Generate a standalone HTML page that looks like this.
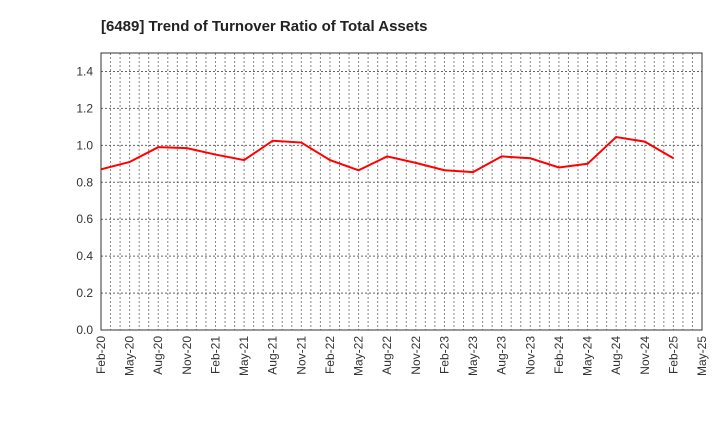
<!DOCTYPE html>
<html><head><meta charset="utf-8"><style>
body{margin:0;background:#fff;}
svg text{font-family:"Liberation Sans",sans-serif;}
</style></head><body>
<svg width="720" height="440" xmlns="http://www.w3.org/2000/svg">
<text x="101" y="31" font-size="15" font-weight="bold" fill="#222">[6489]  Trend of Turnover Ratio of Total Assets</text>
<g id="grid"></g>
<g id="yt"></g>
<g id="xt"></g>
<polyline id="line" fill="none" stroke="#f00" stroke-width="2"/>
<rect x="101" y="53" width="601" height="277" fill="none" stroke="#333" stroke-width="1"/>
</svg>
<script>
const xLabels=["Feb-20","May-20","Aug-20","Nov-20","Feb-21","May-21","Aug-21","Nov-21","Feb-22","May-22","Aug-22","Nov-22","Feb-23","May-23","Aug-23","Nov-23","Feb-24","May-24","Aug-24","Nov-24","Feb-25","May-25"];
const yTicks=[0,0.2,0.4,0.6,0.8,1.0,1.2,1.4];
const values=[0.87,0.91,0.99,0.985,0.95,0.92,1.025,1.015,0.92,0.865,0.94,0.905,0.865,0.855,0.94,0.93,0.88,0.9,1.045,1.02,0.93];
const L=101,R=702,T=53,B=330,YMAX=1.5,MONTHS=63;
const xm=m=>L+(R-L)*m/MONTHS;
const y=v=>B-(B-T)*v/YMAX;
const ns="http://www.w3.org/2000/svg";
const grid=document.getElementById('grid'),yt=document.getElementById('yt'),xt=document.getElementById('xt');
for(let m=1;m<MONTHS;m++){
 const l=document.createElementNS(ns,'line');
 l.setAttribute('x1',xm(m));l.setAttribute('x2',xm(m));l.setAttribute('y1',T);l.setAttribute('y2',B);
 l.setAttribute('stroke','#888');l.setAttribute('stroke-dasharray','2,2');
 
 
 grid.appendChild(l);
}
yTicks.forEach(v=>{
 if(v>0){const l=document.createElementNS(ns,'line');
 l.setAttribute('x1',L);l.setAttribute('x2',R);l.setAttribute('y1',y(v));l.setAttribute('y2',y(v));
 l.setAttribute('stroke','#666');l.setAttribute('stroke-dasharray','2,2');
 
 
 grid.appendChild(l);}
 const t=document.createElementNS(ns,'text');
 t.setAttribute('x',L-8);t.setAttribute('y',y(v)+4);t.setAttribute('text-anchor','end');t.setAttribute('font-size','12');t.setAttribute('fill','#333');
 t.textContent=v.toFixed(1);
 
 
 yt.appendChild(t);
});
xLabels.forEach((s,i)=>{
 const x=xm(i*3);
 const t=document.createElementNS(ns,'text');
 t.setAttribute('transform',`translate(${x+4},${B+6}) rotate(-90)`);
 t.setAttribute('text-anchor','end');t.setAttribute('font-size','12');t.setAttribute('fill','#333');
 t.textContent=s;
 
 
 xt.appendChild(t);
});
document.getElementById('line').setAttribute('points',values.map((v,i)=>xm(i*3)+','+y(v)).join(' '));
</script>
</body></html>
